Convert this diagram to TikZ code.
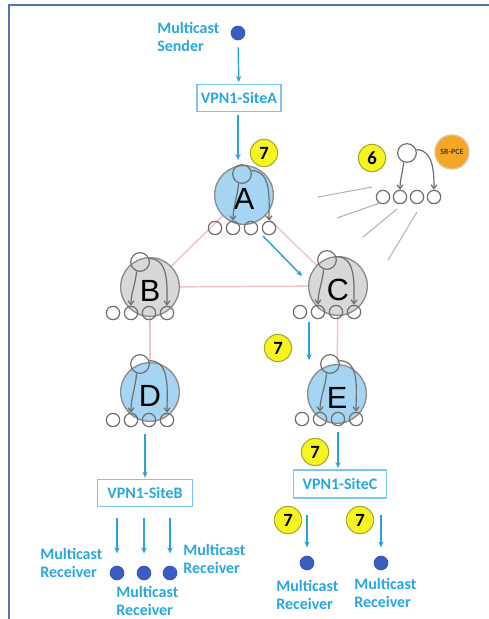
\documentclass[tikz,border=0pt]{standalone}
\usepackage{fontspec}
\setmainfont{Carlito}
\newfontfamily\lib{Liberation Sans}
\usetikzlibrary{arrows.meta}
\definecolor{cytext}{HTML}{29A8E0}
\definecolor{cyarr}{HTML}{2BA3D6}
\definecolor{boxc}{HTML}{7CC8EA}
\definecolor{dotc}{HTML}{3A5CC0}
\definecolor{rblue}{HTML}{A5D5F2}
\definecolor{rgrayf}{HTML}{D8D8D8}
\definecolor{rborder}{HTML}{8C8C8C}
\definecolor{pgray}{HTML}{6E6E6E}
\definecolor{linkc}{HTML}{F2C4C4}
\definecolor{framec}{HTML}{4F74B8}
\definecolor{yel}{HTML}{F7F520}
\definecolor{yelb}{HTML}{A8A830}
\definecolor{orng}{HTML}{F5A623}
\definecolor{orngb}{HTML}{D8C0A0}
\definecolor{lgray}{HTML}{B4B4B4}
\tikzset{
  lbl/.style={font=\bfseries\fontsize{12}{14}\selectfont, text=cytext, align=left, inner sep=0pt, anchor=west},
  flow/.style={draw=cyarr, line width=1.1pt, -{Stealth[length=4.5pt,width=4pt]}},
  site/.style={draw=boxc, line width=1pt, font=\bfseries\fontsize{12}{14}\selectfont, text=cytext, inner sep=0pt},
  dot/.style={circle, fill=dotc, minimum size=11pt, inner sep=0pt},
  badge/.style={circle, fill=yel, draw=yelb, line width=0.8pt, minimum size=20.5pt, inner sep=0pt, font=\bfseries\fontsize{14}{14}\selectfont},
  router/.style={circle, draw=rborder, line width=1pt, minimum size=44pt, inner sep=0pt},
  port/.style={circle, draw=pgray, line width=0.9pt, minimum size=10pt, inner sep=0pt},
  ctl/.style={circle, draw=pgray, line width=0.9pt, minimum size=14pt, inner sep=0pt},
  iarr/.style={draw=pgray, line width=0.9pt, -{Straight Barb[length=3pt,width=4.5pt]}},
  link/.style={draw=linkc, line width=1.1pt},
  rlet/.style={font=\lib\fontsize{23}{23}\selectfont, inner sep=0pt}
}
% name, cx, cy, fill, letter, port-x, port-y, ctl-x, ctl-y
\newcommand\rtr[9]{%
  \node[router, fill=#4] (#1) at (#2,#3) {};
  \node[ctl] (#1c) at (#8,#9) {};
  \node[rlet] (#1L) at (#2,#3+4) {#5};
  \node[port] (#1p1) at (#6,#7) {};
  \node[port] (#1p2) at (#6+18,#7) {};
  \node[port] (#1p3) at (#6+36,#7) {};
  \node[port] (#1p4) at (#6+54,#7) {};
  \draw[iarr] (#1c.250) to[out=-95,in=90] (#1p2.north);
  \draw[iarr] (#1c.20) to[out=0,in=90] (#1p4.north);
}
\begin{document}
\begin{tikzpicture}[x=0.75pt,y=-0.75pt]
\useasboundingbox (0,0) rectangle (489,619);
% frame
\coordinate (fTL) at (9,5);
\coordinate (fTR) at (489,5);
\coordinate (fBL) at (9,619);
\draw[framec, line width=1.6pt] (fTR) -- (fTL) -- (fBL);

% links (behind routers)
\coordinate (Apos) at (244,195);
\coordinate (Bpos) at (150,287);
\coordinate (Cpos) at (338,286);
\coordinate (Dpos) at (150,392);
\coordinate (Epos) at (337,396);
\draw[link] (Apos) -- (Bpos);
\draw[link] (Apos) -- (Cpos);
\draw[link] (Bpos) -- (Cpos);
\draw[link] (Bpos) -- (Dpos);
\draw[link] (Cpos) -- (Epos);

% routers
\rtr{A}{244}{195}{rblue}{A}{215}{228}{242}{174}
\rtr{B}{150}{287}{rgrayf}{B}{113}{313}{140}{262}
\rtr{C}{338}{286}{rgrayf}{C}{300}{312}{327}{260}
\rtr{D}{150}{392}{rblue}{D}{113}{420}{140}{364}
\rtr{E}{337}{394}{rblue}{E}{302}{419}{330}{364}

% sender & site A
\node[dot] (snd) at (238,33) {};
\node[lbl] (sndL) at (157,37) {Multicast\\Sender};
\node[site, minimum width=63pt, minimum height=20pt] (siteA) at (239,98) {VPN1-SiteA};
\draw[flow, shorten <=5pt, shorten >=1.5pt] (snd) -- (siteA);
\draw[flow, shorten <=2pt, shorten >=3pt] (siteA.south -| snd) -- (snd |- Ac.north);
\node[badge] (b7a) at (264,153) {7};

% A -> C
\coordinate (ac1) at (263,236);
\coordinate (ac2) at (302,276);
\draw[flow] (ac1) -- (ac2);

% SR-PCE
\node[circle, fill=orng, draw=orngb, line width=1pt, minimum size=25.5pt, inner sep=0pt,
      font=\bfseries\fontsize{6}{6}\selectfont, text=black!75] (pce) at (452,152) {SR-PCE};
\node[badge] (b6) at (372,158) {6};
\node[ctl] (Pc) at (407,153) {};
\node[port] (Pp1) at (383,197) {};
\node[port] (Pp2) at (400,197) {};
\node[port] (Pp3) at (417,197) {};
\node[port] (Pp4) at (434,197) {};
\draw[iarr] (Pc.250) to[out=-95,in=90] (Pp2.north);
\draw[iarr] (Pc.20) to[out=0,in=90] (Pp4.north);
\foreach \i/\a/\b/\c/\d in {1/318/197/372/187, 2/337/218/380/203, 3/363/237/397/209, 4/388/260/417/212}{
  \coordinate (g\i s) at (\a,\b);
  \coordinate (g\i e) at (\c,\d);
  \draw[lgray, line width=0.8pt] (g\i s) -- (g\i e);
}

% C -> E
\coordinate (ce1) at (309,322);
\coordinate (ce2) at (309,360);
\draw[flow] (ce1) -- (ce2);
\node[badge] (b7c) at (278,348) {7};

% D -> site B
\node[site, minimum width=71pt, minimum height=20pt] (siteB) at (145,493) {VPN1-SiteB};
\draw[flow, shorten <=5pt, shorten >=1pt] (Dp3.south -| siteB) -- (siteB.north);
\node[dot] (rb1) at (117,573) {};
\node[dot] (rb2) at (144,573) {};
\node[dot] (rb3) at (170,573) {};
\foreach \r in {rb1,rb2,rb3}{
  \draw[flow, shorten <=8pt, shorten >=9pt] (siteB.south -| \r) -- (\r.north);
}
\node[lbl] (rb1L) at (40,563) {Multicast\\Receiver};
\node[lbl] (rb2L) at (116,601) {Multicast\\Receiver};
\node[lbl] (rb3L) at (183,559) {Multicast\\Receiver};

% E -> site C
\node[site, minimum width=70pt, minimum height=21pt] (siteC) at (340,484) {VPN1-SiteC};
\draw[flow, shorten <=4pt, shorten >=1pt] (Ep3.south) -- (siteC.north -| Ep3);
\node[badge] (b7e) at (315,452) {7};
\node[dot] (rc1) at (307,563) {};
\node[dot] (rc2) at (381,563) {};
\draw[flow, shorten <=12pt, shorten >=6pt] (siteC.south -| rc1) -- (rc1.north);
\draw[flow, shorten <=12pt, shorten >=6pt] (siteC.south -| rc2) -- (rc2.north);
\node[badge] (b7f) at (288,520) {7};
\node[badge] (b7g) at (360,520) {7};
\node[lbl] (rc1L) at (276,595) {Multicast\\Receiver};
\node[lbl] (rc2L) at (354,593) {Multicast\\Receiver};
\end{tikzpicture}
\end{document}
